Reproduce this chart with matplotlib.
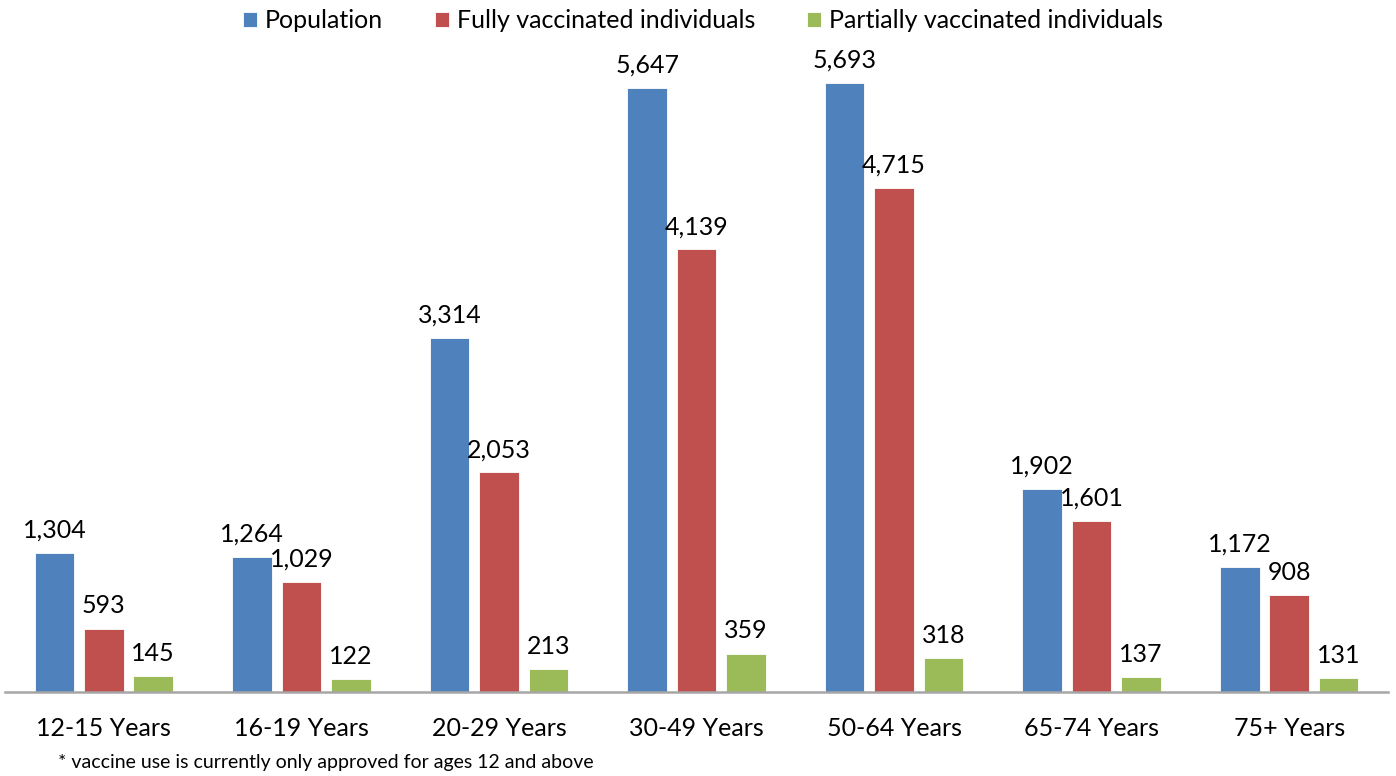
import matplotlib
matplotlib.use("Agg")
import matplotlib.pyplot as plt
import numpy as np

categories = ["12-15 Years", "16-19 Years", "20-29 Years", "30-49 Years",
              "50-64 Years", "65-74 Years", "75+ Years"]
population = [1304, 1264, 3314, 5647, 5693, 1902, 1172]
fully_vaccinated = [593, 1029, 2053, 4139, 4715, 1601, 908]
partially_vaccinated = [145, 122, 213, 359, 318, 137, 131]
series_names = ["Population", "Fully vaccinated individuals", "Partially vaccinated individuals"]
colors = ["#4F81BD", "#C0504D", "#9BBB59"]
footnote = "* vaccine use is currently only approved for ages 12 and above"

plt.rcParams['font.family'] = ['Lato', 'DejaVu Sans']

W, H = 1396, 776
fig = plt.figure(figsize=(W / 100, H / 100), dpi=100)
ax = fig.add_axes([5 / W, 1 - 692 / H, (1388 - 5) / W, (692 - 50.2) / H])

x = np.arange(len(categories))
width = 0.2
step = 0.25
fs = 18
for i, (vals, name, c) in enumerate(zip([population, fully_vaccinated, partially_vaccinated],
                                        series_names, colors)):
    bars = ax.bar(x + (i - 1) * step, vals, width, color=c, label=name,
                  edgecolor="white", linewidth=0.6)
    ax.bar_label(bars, labels=[f"{v:,}" for v in vals], padding=8, fontsize=fs,
                 color="black")

ax.set_xlim(-0.5, len(categories) - 0.5)
ax.set_ylim(0, 6000)
ax.set_yticks([])
ax.set_xticks(x)
ax.set_xticklabels(categories, fontsize=fs)
ax.tick_params(axis="x", length=0, pad=18)
for s in ["top", "left", "right"]:
    ax.spines[s].set_visible(False)
ax.spines["bottom"].set_color("#A6A6A6")
ax.spines["bottom"].set_linewidth(1.8)

fig.legend(loc="center", bbox_to_anchor=(703 / W, 1 - 21 / H), ncol=3, frameon=False,
           fontsize=fs, handlelength=0.55, handleheight=0.55, handletextpad=0.3,
           columnspacing=2.1)

fig.text(58 / W, 1 - 768 / H, footnote, fontsize=14, va="baseline", ha="left")

fig.savefig("out.png", dpi=100)
